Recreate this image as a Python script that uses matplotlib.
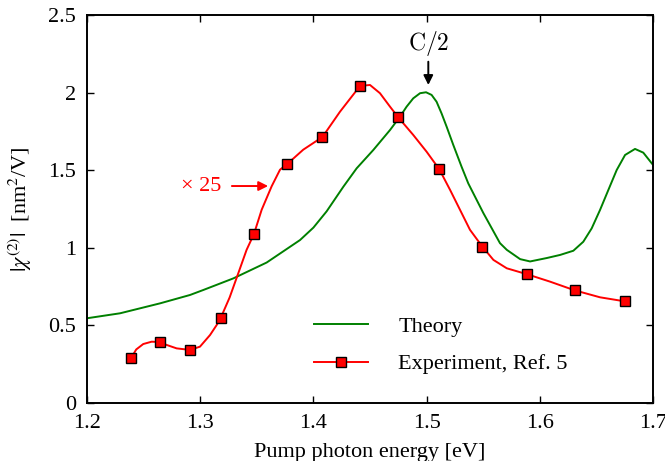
import matplotlib
matplotlib.use("Agg")
import matplotlib.pyplot as plt

plt.rcParams["font.family"] = ["Liberation Serif", "DejaVu Serif"]
plt.rcParams["mathtext.fontset"] = "stix"

# Experiment markers (already x25)
exp_x = [1.239, 1.2645, 1.291, 1.318, 1.3475, 1.3769, 1.408, 1.4412,
         1.475, 1.5112, 1.5492, 1.589, 1.6308, 1.675]
exp_y = [0.29, 0.393, 0.342, 0.546, 1.089, 1.540, 1.714, 2.043,
         1.840, 1.506, 1.008, 0.829, 0.726, 0.655]

# smooth red line
exp_line_x = [1.239, 1.2435, 1.2497, 1.2571, 1.2645, 1.2704, 1.2792, 1.291,
              1.2998, 1.3087, 1.3146, 1.318, 1.326, 1.3337, 1.341, 1.3475,
              1.3543, 1.3631, 1.3705, 1.3769, 1.391, 1.408, 1.4235, 1.4412,
              1.45, 1.4588, 1.4677, 1.475, 1.4882, 1.5, 1.5112, 1.5208,
              1.5383, 1.5492, 1.559, 1.5708, 1.589, 1.609, 1.6308, 1.6532,
              1.675]
exp_line_y = [0.29, 0.345, 0.380, 0.395, 0.393, 0.374, 0.352, 0.342,
              0.363, 0.438, 0.503, 0.546, 0.68, 0.837, 0.987, 1.089,
              1.245, 1.396, 1.503, 1.540, 1.632, 1.714, 1.877, 2.043,
              2.049, 1.996, 1.909, 1.840, 1.727, 1.619, 1.506, 1.372,
              1.116, 1.008, 0.922, 0.868, 0.829, 0.782, 0.726, 0.681,
              0.655]

# Theory curve
th_x = [1.20, 1.2292, 1.2645, 1.291, 1.3027, 1.3293, 1.3587, 1.3882, 1.400,
        1.4117, 1.4265, 1.4382, 1.4529, 1.4677, 1.4765, 1.4823, 1.4882,
        1.4942, 1.4995, 1.5044, 1.5088, 1.5132, 1.5177, 1.5236, 1.5309,
        1.5368, 1.5501, 1.5648, 1.5708, 1.5826, 1.5914, 1.6061, 1.6179,
        1.6296, 1.6384, 1.6458, 1.6532, 1.6605, 1.6679, 1.6753, 1.6841,
        1.6914, 1.6988, 1.705]
th_y = [0.546, 0.578, 0.642, 0.696, 0.728, 0.803, 0.905, 1.05, 1.13,
        1.235, 1.394, 1.512, 1.630, 1.759, 1.845, 1.909, 1.963,
        1.996, 2.002, 1.985, 1.941, 1.866, 1.780, 1.662, 1.522,
        1.415, 1.224, 1.03, 0.987, 0.927, 0.912, 0.934, 0.954,
        0.981, 1.039, 1.125, 1.244, 1.372, 1.501, 1.598, 1.637,
        1.613, 1.545, 1.49]

x_ticks = [1.2, 1.3, 1.4, 1.5, 1.6, 1.7]
y_ticks = [0, 0.5, 1, 1.5, 2, 2.5]
y_tick_labels = ["0", "0.5", "1", "1.5", "2", "2.5"]


def main():
    fig = plt.figure(figsize=(6.65, 4.61), dpi=100)
    ax = fig.add_axes([0.1308, 0.1258, 0.8512, 0.8417])

    ax.plot(th_x, th_y, color="#008000", lw=1.4, label="Theory",
            solid_joinstyle="round")
    ax.plot(exp_line_x, exp_line_y, color="red", lw=1.4,
            solid_joinstyle="round")
    ax.plot(exp_x, exp_y, ls="none", marker="s", ms=7.6, mfc="red",
            mec="black", mew=1.0)
    # legend proxy for experiment
    ax.plot([], [], color="red", lw=1.4, marker="s", ms=7.6, mfc="red",
            mec="black", mew=1.0, label="Experiment, Ref. 5")

    ax.set_xlim(1.2, 1.7)
    ax.set_ylim(0, 2.5)
    ax.set_xticks(x_ticks)
    ax.set_xticklabels([f"{t:.1f}" for t in x_ticks])
    ax.set_yticks(y_ticks)
    ax.set_yticklabels(y_tick_labels)
    ax.tick_params(direction="in", length=5, width=1.0, labelsize=16,
                   top=True, right=True, pad=8)
    for sp in ax.spines.values():
        sp.set_linewidth(1.4)

    ax.set_xlabel("Pump photon energy [eV]", fontsize=16, labelpad=7)
    ax.set_ylabel(r"$|\chi^{(2)}|$  [nm$^2$/V]", fontsize=16, labelpad=10)

    ax.text(1.3007, 1.392, "× 25", color="red", fontsize=16,
            ha="center", va="center")
    ax.annotate("", xy=(1.360, 1.398), xytext=(1.328, 1.398),
                arrowprops=dict(arrowstyle="-|>", color="red", lw=1.4,
                                mutation_scale=14, shrinkA=0, shrinkB=0))

    ax.text(1.5015, 2.319, r"$\mathrm{C}/2$", fontsize=17, ha="center",
            va="center", math_fontfamily="cm")
    ax.annotate("", xy=(1.5015, 2.049), xytext=(1.5015, 2.199),
                arrowprops=dict(arrowstyle="-|>", color="black", lw=1.4,
                                mutation_scale=14, shrinkA=0, shrinkB=0))

    ax.legend(loc="upper left", bbox_to_anchor=(0.385, 0.247), frameon=False,
              fontsize=16, handlelength=2.45, handletextpad=1.35,
              labelspacing=0.78, borderaxespad=0)

    fig.savefig("out.png", dpi=100)


if __name__ == "__main__":
    main()
